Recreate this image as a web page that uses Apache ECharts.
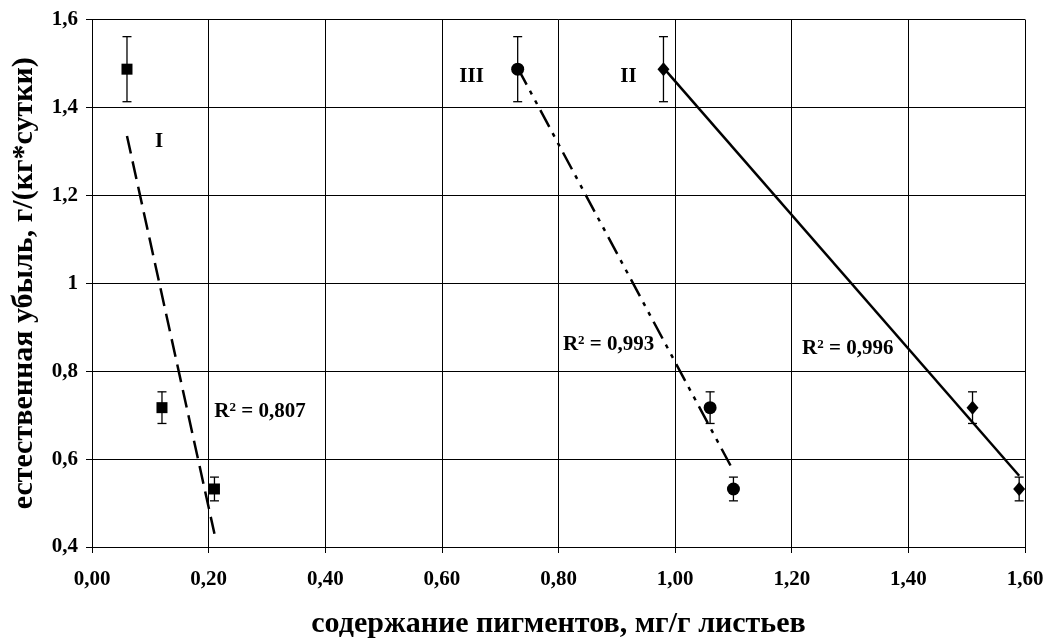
<!DOCTYPE html>
<html><head><meta charset="utf-8">
<script src="https://cdn.jsdelivr.net/npm/echarts@6/dist/echarts.min.js"></script>
<style>html,body{margin:0;padding:0;background:#fff}#c{width:1046px;height:639px}</style>
</head><body><div id="c"></div>
<script>
// Series I (squares)
const xI = [0.06, 0.12, 0.21];
const yI = [1.487, 0.717, 0.532];
const eI = [0.074, 0.036, 0.027];
const trendI = [[0.06, 1.335], [0.21, 0.43]];
// Series II (diamonds)
const xII = [0.98, 1.51, 1.59];
const yII = [1.487, 0.717, 0.532];
const eII = [0.074, 0.036, 0.027];
const trendII = [[0.98, 1.490], [1.59, 0.562]];
// Series III (circles)
const xIII = [0.73, 1.06, 1.10];
const yIII = [1.487, 0.717, 0.532];
const eIII = [0.074, 0.036, 0.027];
const trendIII = [[0.73, 1.490], [1.10, 0.573]];
// Annotations
const annotations = [
  {text: 'I', pos: [0.115, 1.322]},
  {text: 'III', pos: [0.651, 1.470]},
  {text: 'II', pos: [0.920, 1.470]}
];
const r2Labels = [
  {text: '0,807', pos: [0.288, 0.707]},
  {text: '0,993', pos: [0.886, 0.860]},
  {text: '0,996', pos: [1.296, 0.852]}
];
const xTitle = 'содержание пигментов, мг/г листьев';
const yTitle = 'естественная убыль, г/(кг*сутки)';

const FONT = '"Liberation Serif", "Times New Roman", serif';

function pts(xs, ys) { return xs.map((x, i) => [x, ys[i]]); }
function errs(xs, ys, es) { return xs.map((x, i) => [x, ys[i] - es[i], ys[i] + es[i]]); }

function errorSeries(data) {
  return {
    type: 'custom', data: data, z: 3,
    renderItem: function (params, api) {
      const x = api.value(0);
      const lo = api.coord([x, api.value(1)]);
      const hi = api.coord([x, api.value(2)]);
      const w = 4.5;
      const st = {stroke: '#000', lineWidth: 1.3};
      return {type: 'group', children: [
        {type: 'line', shape: {x1: lo[0], y1: lo[1], x2: hi[0], y2: hi[1]}, style: st},
        {type: 'line', shape: {x1: lo[0] - w, y1: lo[1], x2: lo[0] + w, y2: lo[1]}, style: st},
        {type: 'line', shape: {x1: hi[0] - w, y1: hi[1], x2: hi[0] + w, y2: hi[1]}, style: st}
      ]};
    }
  };
}

const chart = echarts.init(document.getElementById('c'), null, {renderer: 'canvas'});
chart.setOption({
  animation: false,
  backgroundColor: '#fff',
  grid: {left: 92, right: 21, top: 19.5, bottom: 92, outerBoundsMode: 'none', containLabel: false},
  xAxis: {
    type: 'value', min: 0, max: 1.6, interval: 0.2,
    name: xTitle, nameLocation: 'middle', nameGap: 62,
    nameTextStyle: {fontFamily: FONT, fontWeight: 'bold', fontSize: 30, color: '#000'},
    axisLine: {lineStyle: {color: '#000', width: 1}},
    axisTick: {show: true, length: 6, lineStyle: {color: '#000'}},
    axisLabel: {margin: 22, fontFamily: FONT, fontWeight: 'bold', fontSize: 21, color: '#000',
      formatter: v => v.toFixed(2).replace('.', ',')},
    splitLine: {show: true, lineStyle: {color: '#000', width: 1}}
  },
  yAxis: {
    type: 'value', min: 0.4, max: 1.6, interval: 0.2,
    name: yTitle, nameLocation: 'middle', nameGap: 53,
    nameTextStyle: {fontFamily: FONT, fontWeight: 'bold', fontSize: 30, color: '#000'},
    axisLine: {show: true, lineStyle: {color: '#000', width: 1}},
    axisTick: {show: true, length: 6, lineStyle: {color: '#000'}},
    axisLabel: {margin: 14, fontFamily: FONT, fontWeight: 'bold', fontSize: 21, color: '#000',
      formatter: v => String(Math.round(v * 10) / 10).replace('.', ',')},
    splitLine: {show: true, lineStyle: {color: '#000', width: 1}}
  },
  series: [
    {type: 'line', data: trendI, symbol: 'none', z: 2,
      lineStyle: {color: '#000', width: 2.5, type: [18, 8]}},
    {type: 'line', data: trendII, symbol: 'none', z: 2,
      lineStyle: {color: '#000', width: 2.5, type: 'solid'}},
    {type: 'line', data: trendIII, symbol: 'none', z: 2,
      lineStyle: {color: '#000', width: 2.5, type: [19, 7, 4, 7, 4, 7]}},
    errorSeries(errs(xI, yI, eI)),
    errorSeries(errs(xII, yII, eII)),
    errorSeries(errs(xIII, yIII, eIII)),
    {type: 'scatter', data: pts(xI, yI), symbol: 'rect', symbolSize: 11, z: 4,
      itemStyle: {color: '#000', opacity: 1}},
    {type: 'scatter', data: pts(xII, yII), symbol: 'diamond', symbolSize: [12, 14], z: 4,
      itemStyle: {color: '#000', opacity: 1}},
    {type: 'scatter', data: pts(xIII, yIII), symbol: 'circle', symbolSize: 13, z: 4,
      itemStyle: {color: '#000', opacity: 1}},
    {type: 'scatter', symbolSize: 0, z: 5, silent: true,
      itemStyle: {opacity: 1},
      data: annotations.map(a => ({value: a.pos, name: a.text})),
      label: {show: true, position: 'inside', formatter: p => p.name,
        fontFamily: FONT, fontWeight: 'bold', fontSize: 21, color: '#000'}},
    {type: 'scatter', symbolSize: 0, z: 5, silent: true,
      itemStyle: {opacity: 1},
      data: r2Labels.map(a => ({value: a.pos, name: a.text})),
      label: {show: true, position: 'inside',
        formatter: p => '{r|R}{s|2}{r| = ' + p.name + '}',
        rich: {
          r: {fontFamily: FONT, fontWeight: 'bold', fontSize: 21, color: '#000'},
          s: {fontFamily: FONT, fontWeight: 'bold', fontSize: 13, color: '#000', verticalAlign: 'bottom', padding: [0, 0, 8, 0]}
        }}}
  ]
});
</script></body></html>
